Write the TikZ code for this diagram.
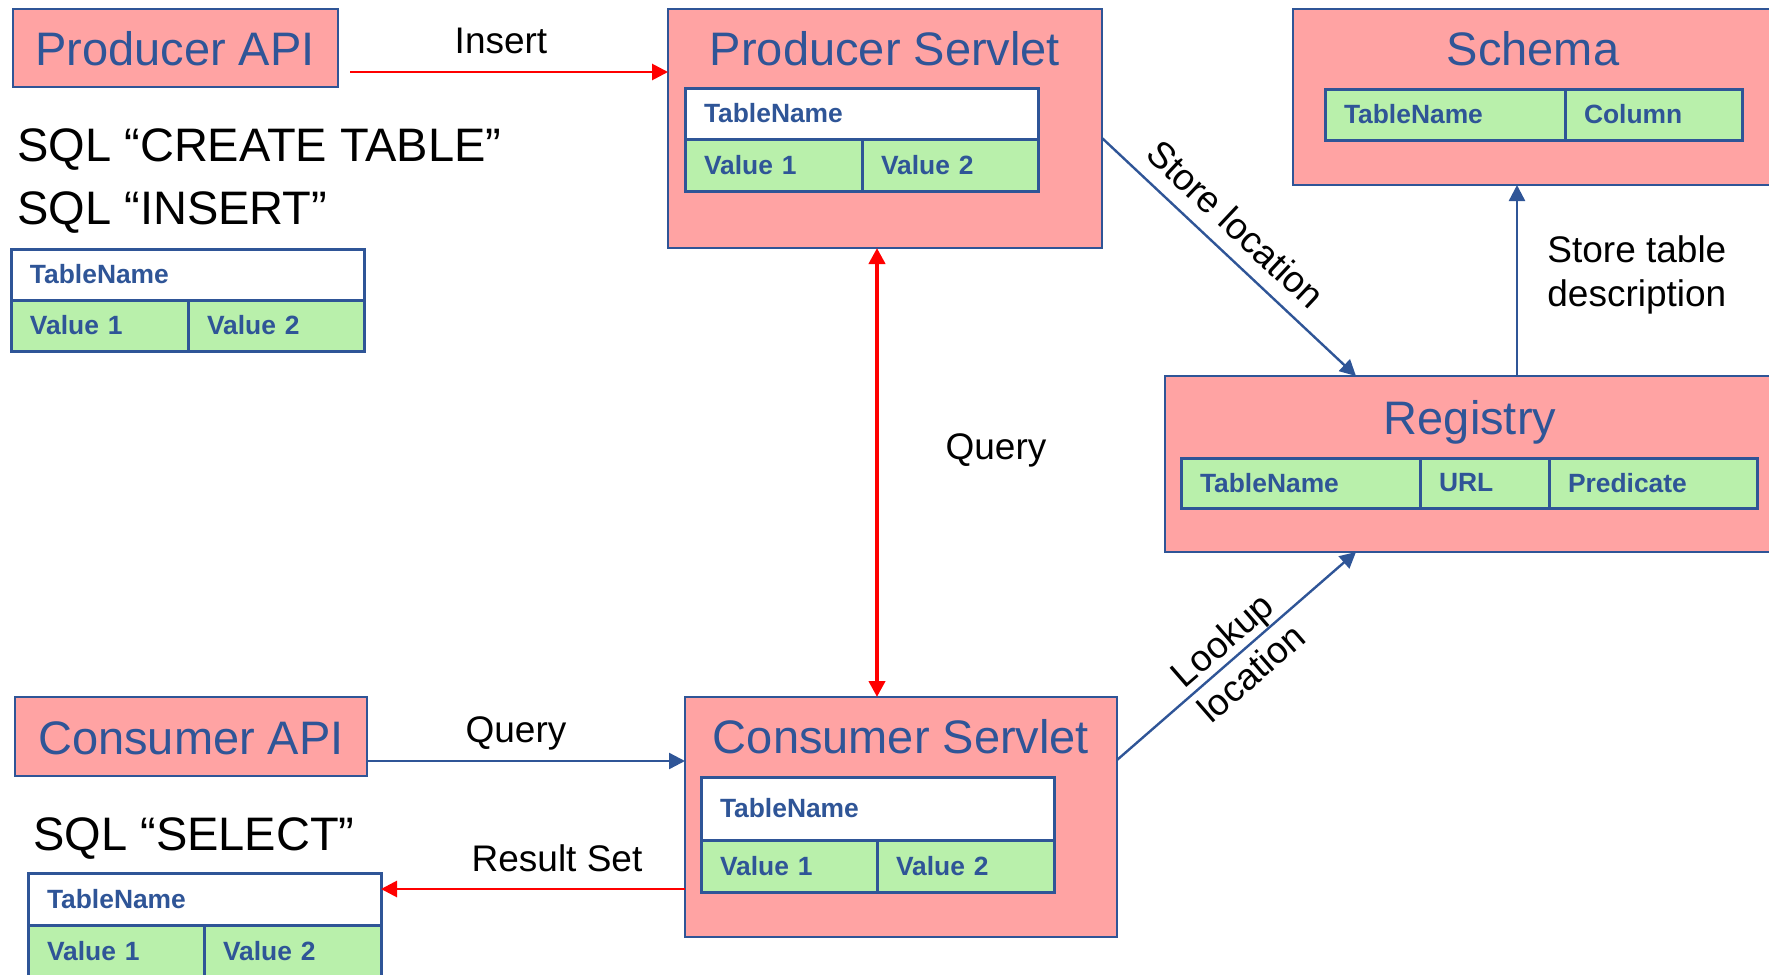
\documentclass[tikz,border=0pt]{standalone}
\usepackage{fontspec}
\setmainfont{Liberation Sans}
\usetikzlibrary{arrows.meta,calc}
\definecolor{pinkf}{HTML}{FFA3A3}
\definecolor{greenf}{HTML}{B9F0AB}
\definecolor{bblue}{HTML}{2F5597}
\definecolor{rred}{HTML}{FF0000}
\newcommand\mycell[7]{%
  \pgfmathsetmacro\cellw{(#4-#2)*0.5-19}%
  \pgfmathsetmacro\cellh{(#5-#3)*0.5}%
  \node[cell,fill=#6,anchor=north west,minimum height=\cellh pt,text width=\cellw pt] (#1) at (#2,#3) {#7};}
\newcommand\mybox[5]{%
  \pgfmathsetmacro\boxw{(#4-#2)*0.5}%
  \pgfmathsetmacro\boxh{(#5-#3)*0.5}%
  \node[box,anchor=north west,minimum width=\boxw pt,minimum height=\boxh pt] (#1) at (#2,#3) {};}
\begin{document}
\begin{tikzpicture}[x=0.5pt,y=-0.5pt,
  box/.style={draw=bblue,fill=pinkf,line width=1pt,inner sep=0pt,outer sep=0pt},
  title/.style={text=bblue,font=\fontsize{23.5}{28}\selectfont,inner sep=0pt},
  cell/.style={draw=bblue,line width=1.5pt,inner xsep=9.5pt,inner ysep=0pt,outer sep=0pt,align=left,text=bblue,font=\fontsize{13.2}{15}\selectfont\bfseries},
  lbl/.style={font=\fontsize{18.5}{22}\selectfont,inner sep=0pt},
  sql/.style={font=\fontsize{23.5}{28}\selectfont,inner sep=0pt,anchor=base west},
  bluearr/.style={draw=bblue,line width=1.2pt,-{Triangle[length=8pt,width=8pt]}},
  redarr/.style={draw=rred,line width=1.4pt,-{Triangle[length=8pt,width=8pt]}},
  dredarr/.style={draw=rred,line width=2.2pt,{Triangle[length=8pt,width=8pt]}-{Triangle[length=8pt,width=8pt]}},
]
\useasboundingbox (0,0) rectangle (1769,975);
\clip (0,0) rectangle (1769,975);

% boxes
\mybox{pa}{13}{9}{338}{87}
\mybox{ps}{668}{9}{1102}{248}
\mybox{sc}{1293}{9}{1800}{185}
\mybox{rg}{1165}{376}{1800}{552}
\mybox{ca}{15}{697}{367}{776}
\mybox{cs}{685}{697}{1117}{937}

% titles
\node[title,anchor=base] (tPA) at (175,65) {Producer API};
\node[title,anchor=base] (tPS) at (885,65) {Producer Servlet};
\node[title,anchor=base] (tSC) at (1533,65) {Schema};
\node[title,anchor=base] (tRG) at (1470,434) {Registry};
\node[title,anchor=base] (tCA) at (191,754) {Consumer API};
\node[title,anchor=base] (tCS) at (901,753) {Consumer Servlet};

% tables
\mycell{taH}{11}{249}{364}{300}{white}{TableName}
\mycell{taA}{11}{300}{188}{351}{greenf}{Value 1}
\mycell{taB}{188}{300}{364}{351}{greenf}{Value 2}

\mycell{tpH}{685}{88}{1038}{139}{white}{TableName}
\mycell{tpA}{685}{139}{862}{191}{greenf}{Value 1}
\mycell{tpB}{862}{139}{1038}{191}{greenf}{Value 2}

\mycell{tsA}{1325}{89}{1565}{140}{greenf}{TableName}
\mycell{tsB}{1565}{89}{1742}{140}{greenf}{Column}

\mycell{trA}{1181}{458}{1420}{508}{greenf}{TableName}
\mycell{trB}{1420}{458}{1549}{508}{greenf}{URL}
\mycell{trC}{1549}{458}{1757}{508}{greenf}{Predicate}

\mycell{tcH}{701}{777}{1054}{840}{white}{TableName}
\mycell{tcA}{701}{840}{877}{892}{greenf}{Value 1}
\mycell{tcB}{877}{840}{1054}{892}{greenf}{Value 2}

\mycell{tbH}{28}{873}{381}{925}{white}{TableName}
\mycell{tbA}{28}{925}{204}{977}{greenf}{Value 1}
\mycell{tbB}{204}{925}{381}{977}{greenf}{Value 2}

% SQL texts
\node[sql] (sqlC) at (17,161) {SQL “CREATE TABLE”};
\node[sql] (sqlI) at (17,224) {SQL “INSERT”};
\node[sql] (sqlS) at (33,850) {SQL “SELECT”};

% connectors
\coordinate (insS) at (350,72);
\draw[redarr] (insS) -- (insS -| ps.west);
\node[lbl,anchor=base] (lIns) at (501,53) {Insert};

\coordinate (qx) at (877,0);
\draw[dredarr] (qx |- ps.south) -- (qx |- cs.north);
\node[lbl,anchor=base] (lQv) at (996,459) {Query};

\coordinate (sly) at (0,138);
\coordinate (slx) at (1356,0);
\draw[bluearr] (ps.east |- sly) -- node[lbl,sloped,above=7pt,pos=0.45] (lSL) {Store location} (slx |- rg.north);

\coordinate (tx) at (1517,0);
\draw[bluearr] (tx |- rg.north) -- (tx |- sc.south);
\node[lbl,anchor=base west] (lSt1) at (1547,262) {Store table};
\node[lbl,anchor=base west] (lSt2) at (1547,306) {description};

\coordinate (qy) at (0,761);
\draw[bluearr] (ca.east |- qy) -- (cs.west |- qy);
\node[lbl,anchor=base] (lQh) at (516,742) {Query};

\coordinate (ry) at (0,889);
\draw[redarr] (cs.west |- ry) -- (tbH.east |- ry);
\node[lbl,anchor=base] (lRs) at (557,871) {Result Set};

\coordinate (ly) at (0,760);
\coordinate (lx) at (1356,0);
\draw[bluearr] (cs.east |- ly) -- node[lbl,sloped,align=center] (lLL) {Lookup\\location} (lx |- rg.south);
\end{tikzpicture}
\end{document}
